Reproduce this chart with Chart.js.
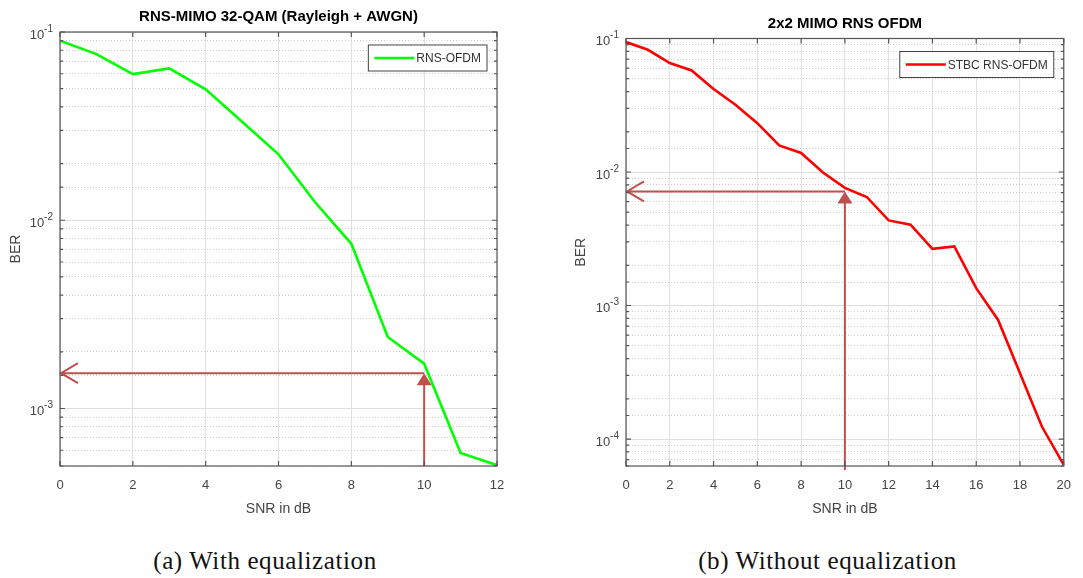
<!DOCTYPE html>
<html lang="en">
<head>
    <meta charset="UTF-8">
    <style>
        * {
            box-sizing: border-box;
            margin: 0;
            padding: 0;
        }

        body {
            background: #fff;
            width: 1083px;
            height: 578px;
            position: relative;
            overflow: hidden;
        }

        .plot {
            position: absolute;
            top: 0;
            height: 530px;
        }

        .caption {
            position: absolute;
            top: 546px;
            line-height: 30px;
            font-family: "Liberation Serif", "Times New Roman", serif;
            font-size: 25px;
            letter-spacing: 0.6px;
            color: #111;
            text-align: center;
            white-space: nowrap;
        }
    </style>
</head>
<body>
    <div class="plot" style="left:0; width:520px;"><canvas id="chartA"></canvas></div>
    <div class="plot" style="left:560px; width:523px;"><canvas id="chartB"></canvas></div>
    <div class="caption" style="left:0; width:530px;">(a) With equalization</div>
    <div class="caption" style="left:655px; width:345px;">(b) Without equalization</div>

    <script src="https://cdn.jsdelivr.net/npm/chart.js@4.4.1/dist/chart.umd.min.js"></script>
    <script>
        // (a) with equalization
        const snrA = [0, 1, 2, 3, 4, 5, 6, 7, 8, 9, 10, 11, 12];
        const berA = [0.090, 0.0763, 0.0598, 0.0641, 0.0496, 0.0334, 0.0224, 0.0125, 0.0075, 0.0024, 0.00173, 0.00058, 0.0005];
        const xTicksA = [0, 2, 4, 6, 8, 10, 12];
        const yDecadesA = [0.1, 0.01, 0.001];
        const yExpA = ['-1', '-2', '-3'];
        const arrowA = { snr: 10, ber: 0.00154 };

        // (b) without equalization
        const snrB = [0, 1, 2, 3, 4, 5, 6, 7, 8, 9, 10, 11, 12, 13, 14, 15, 16, 17, 18, 19, 20];
        const berB = [0.094, 0.0823, 0.0655, 0.0576, 0.0418, 0.0319, 0.0232, 0.0158, 0.0139, 0.0099, 0.0076,
                      0.0065, 0.00434, 0.00403, 0.00266, 0.00277, 0.00135, 0.00078, 0.000311, 0.000124, 0.000064];
        const xTicksB = [0, 2, 4, 6, 8, 10, 12, 14, 16, 18, 20];
        const yDecadesB = [0.1, 0.01, 0.001, 0.0001];
        const yExpB = ['-1', '-2', '-3', '-4'];
        const arrowB = { snr: 10, ber: 0.00715 };

        const FONT = '"Liberation Sans", Arial, sans-serif';
        Chart.defaults.font.family = FONT;
        Chart.defaults.animation = false;

        const TICK_COLOR = '#444';
        const ARROW_COLOR = '#c0504d';

        function decadeIndex(decades, v) {
            return decades.findIndex(d => Math.abs(d - v) / d < 1e-6);
        }

        // frame box, inward ticks, 10^n labels and the boxed legend
        const matlabFrame = {
            id: 'matlabFrame',
            afterDraw(chart, args, opts) {
                const { ctx, chartArea: a } = chart;
                const x = chart.scales.x, y = chart.scales.y;
                ctx.save();
                ctx.strokeStyle = '#555';
                ctx.lineWidth = 1.2;
                ctx.strokeRect(a.left, a.top, a.right - a.left, a.bottom - a.top);
                ctx.beginPath();
                y.ticks.forEach(t => {
                    const py = y.getPixelForValue(t.value);
                    const len = decadeIndex(opts.decades, t.value) >= 0 ? 5 : 3;
                    ctx.moveTo(a.left, py); ctx.lineTo(a.left + len, py);
                    ctx.moveTo(a.right, py); ctx.lineTo(a.right - len, py);
                });
                x.ticks.forEach(t => {
                    const px = x.getPixelForValue(t.value);
                    ctx.moveTo(px, a.bottom); ctx.lineTo(px, a.bottom - 5);
                    ctx.moveTo(px, a.top); ctx.lineTo(px, a.top + 5);
                });
                ctx.stroke();

                // decade labels with raised exponent
                ctx.fillStyle = TICK_COLOR;
                ctx.textAlign = 'right';
                ctx.textBaseline = 'middle';
                opts.decades.forEach((d, i) => {
                    const py = y.getPixelForValue(d);
                    ctx.font = '10px ' + FONT;
                    const ew = ctx.measureText(opts.exps[i]).width;
                    ctx.fillText(opts.exps[i], a.left - 7, py - 3);
                    ctx.font = '13px ' + FONT;
                    ctx.fillText('10', a.left - 7 - ew, py + 3);
                });
                ctx.textAlign = 'left';

                // legend
                const ds = chart.data.datasets[0];
                ctx.font = '12px ' + FONT;
                const tw = ctx.measureText(ds.label).width;
                const w = 6 + 40 + 2 + tw + 6, h = 26;
                const lx = a.right - 10 - w, ly = a.top + 13;
                ctx.fillStyle = '#fff';
                ctx.fillRect(lx, ly, w, h);
                ctx.strokeStyle = '#444';
                ctx.lineWidth = 1;
                ctx.strokeRect(lx, ly, w, h);
                ctx.strokeStyle = ds.borderColor;
                ctx.lineWidth = 2.5;
                ctx.beginPath();
                ctx.moveTo(lx + 6, ly + h / 2); ctx.lineTo(lx + 46, ly + h / 2);
                ctx.stroke();
                ctx.fillStyle = '#333';
                ctx.textBaseline = 'middle';
                ctx.fillText(ds.label, lx + 48, ly + h / 2 + 1);
                ctx.restore();
            }
        };

        // the two red arrows, placed through the scales
        const berArrows = {
            id: 'berArrows',
            afterDatasetsDraw(chart, args, opts) {
                const { ctx, chartArea: a } = chart;
                const px = chart.scales.x.getPixelForValue(opts.snr);
                const py = chart.scales.y.getPixelForValue(opts.ber);
                const x0 = chart.scales.x.getPixelForValue(0);
                ctx.save();
                ctx.strokeStyle = ARROW_COLOR;
                ctx.fillStyle = ARROW_COLOR;
                ctx.lineWidth = 2;
                ctx.beginPath();
                // horizontal arrow, open head at the BER axis
                ctx.moveTo(px, py); ctx.lineTo(x0 + 1, py);
                ctx.moveTo(x0 + 18, py - 10); ctx.lineTo(x0 + 1, py); ctx.lineTo(x0 + 18, py + 10);
                // vertical shaft from the SNR axis
                ctx.moveTo(px, a.bottom + opts.below); ctx.lineTo(px, py + 10);
                ctx.stroke();
                ctx.beginPath();
                ctx.moveTo(px, py);
                ctx.lineTo(px - 7.5, py + 12);
                ctx.lineTo(px + 7.5, py + 12);
                ctx.closePath();
                ctx.fill();
                ctx.restore();
            }
        };

        function makeChart(id, cfg) {
            return new Chart(document.getElementById(id), {
                type: 'line',
                data: {
                    datasets: [{
                        label: cfg.label,
                        data: cfg.snr.map((s, i) => ({ x: s, y: cfg.ber[i] })),
                        borderColor: cfg.color,
                        borderWidth: 2.6,
                        pointRadius: 0,
                        tension: 0,
                        fill: false
                    }]
                },
                options: {
                    responsive: true,
                    maintainAspectRatio: false,
                    layout: { padding: { left: 0, right: cfg.padRight, top: 0, bottom: 4 } },
                    plugins: {
                        legend: { display: false },
                        tooltip: { enabled: false },
                        title: {
                            display: true,
                            text: cfg.title,
                            fullSize: false,
                            color: '#000',
                            font: { size: 15, weight: 'bold' },
                            padding: { top: cfg.titleTop, bottom: 6 }
                        },
                        matlabFrame: { decades: cfg.decades, exps: cfg.exps },
                        berArrows: { snr: cfg.arrow.snr, ber: cfg.arrow.ber, below: cfg.arrowBelow }
                    },
                    scales: {
                        x: {
                            type: 'linear',
                            min: cfg.snr[0],
                            max: cfg.snr[cfg.snr.length - 1],
                            afterBuildTicks: s => { s.ticks = cfg.xTicks.map(v => ({ value: v })); },
                            afterFit: s => { s.height = 60; },
                            ticks: { color: TICK_COLOR, font: { size: 13 }, padding: 12, maxRotation: 0 },
                            grid: { color: '#e2e2e2', drawTicks: false },
                            border: { display: false },
                            title: {
                                display: true,
                                text: 'SNR in dB',
                                color: TICK_COLOR,
                                font: { size: 14 },
                                padding: { top: 0, bottom: 8 }
                            }
                        },
                        y: {
                            type: 'logarithmic',
                            min: cfg.yMin,
                            max: 0.1,
                            afterFit: s => { s.width = cfg.yWidth; },
                            ticks: { display: false, autoSkip: false },
                            grid: {
                                drawTicks: false,
                                color: c => decadeIndex(cfg.decades, c.tick.value) >= 0 ? '#dedede' : 'rgba(0,0,0,0)'
                            },
                            border: { display: false },
                            title: {
                                display: true,
                                text: 'BER',
                                color: TICK_COLOR,
                                font: { size: 14 },
                                padding: { top: cfg.berPad, bottom: 0 }
                            }
                        },
                        yMinor: {
                            type: 'logarithmic',
                            position: 'right',
                            min: cfg.yMin,
                            max: 0.1,
                            afterFit: s => { s.width = 0; },
                            ticks: { display: false, autoSkip: false },
                            grid: {
                                drawTicks: false,
                                color: c => decadeIndex(cfg.decades, c.tick.value) >= 0 ? 'rgba(0,0,0,0)' : '#cdcdcd'
                            },
                            border: { display: false, dash: [1, 2] }
                        }
                    }
                },
                plugins: [berArrows, matlabFrame]
            });
        }

        makeChart('chartA', {
            label: 'RNS-OFDM',
            title: 'RNS-MIMO 32-QAM (Rayleigh + AWGN)',
            color: '#00ff00',
            snr: snrA, ber: berA,
            xTicks: xTicksA, decades: yDecadesA, exps: yExpA,
            arrow: arrowA, arrowBelow: 0,
            yMin: 0.000495, yWidth: 60, padRight: 23,
            titleTop: 8, berPad: 8
        });

        makeChart('chartB', {
            label: 'STBC RNS-OFDM',
            title: '2x2 MIMO RNS OFDM',
            color: '#ff0000',
            snr: snrB, ber: berB,
            xTicks: xTicksB, decades: yDecadesB, exps: yExpB,
            arrow: arrowB, arrowBelow: 4,
            yMin: 0.0000628, yWidth: 66, padRight: 14,
            titleTop: 14.5, berPad: 13
        });
    </script>
</body>
</html>
